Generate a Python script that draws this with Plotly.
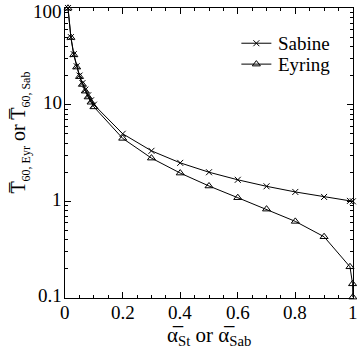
import math
import plotly.graph_objects as go

alpha_sab = [0.01, 0.02, 0.03, 0.04, 0.05, 0.06, 0.07, 0.08, 0.09, 0.1,
             0.2, 0.3, 0.4, 0.5, 0.6, 0.7, 0.8, 0.9, 0.99, 1.0]
t_sab = [100, 50, 33.3, 25, 20, 16.7, 14.3, 12.5, 11.1, 10,
         5.0, 3.33, 2.5, 2.0, 1.67, 1.43, 1.25, 1.11, 1.01, 1.0]

alpha_eyr = [0.01, 0.02, 0.03, 0.04, 0.05, 0.06, 0.07, 0.08, 0.09, 0.1,
             0.2, 0.3, 0.4, 0.5, 0.6, 0.7, 0.8, 0.9, 0.99, 0.999, 0.9999]
t_eyr = [99.5, 49.5, 32.8, 24.5, 19.5, 16.2, 13.8, 12.0, 10.6, 9.49,
         4.48, 2.80, 1.96, 1.44, 1.09, 0.83, 0.62, 0.43, 0.21, 0.14, 0.102]

series_names = ["Sabine", "Eyring"]

x_ticks = [0, 0.2, 0.4, 0.6, 0.8, 1]
x_labels = ["0", "0.2", "0.4", "0.6", "0.8", "1"]
y_ticks = [0.1, 1, 10, 100]
y_labels = ["0.1", "1", "10", "100"]
y_minor = [0.2, 0.3, 0.4, 0.5, 0.6, 0.7, 0.8, 0.9,
           2, 3, 4, 5, 6, 7, 8, 9,
           20, 30, 40, 50, 60, 70, 80, 90]

FONT = "Liberation Serif"
TXT = dict(family=FONT, size=19, color="black")

fig = go.Figure()
fig.add_trace(go.Scatter(
    x=alpha_sab, y=t_sab, name=" ", mode="lines+markers",
    line=dict(color="black", width=1), cliponaxis=False, legend="legend",
    marker=dict(symbol="x-thin", size=6, color="black",
                line=dict(color="black", width=1)),
))
fig.add_trace(go.Scatter(
    x=alpha_eyr, y=t_eyr, name=" ", mode="lines+markers",
    line=dict(color="black", width=1), cliponaxis=False, legend="legend2",
    marker=dict(symbol="triangle-up-open", size=7, color="black",
                line=dict(color="black", width=1)),
))

leg_common = dict(xanchor="left", yanchor="middle", bgcolor="rgba(0,0,0,0)",
                  font=dict(size=19, color="black"), itemwidth=30)
leg_y = [0.878, 0.806]
fig.update_layout(
    width=357, height=355,
    margin=dict(l=65, r=4, t=8, b=57),
    paper_bgcolor="white", plot_bgcolor="white",
    showlegend=True,
    legend=dict(x=0.595, y=leg_y[0], **leg_common),
    legend2=dict(x=0.595, y=leg_y[1], **leg_common),
)
axis_common = dict(
    showline=True, linecolor="black", linewidth=1, mirror="ticks",
    ticks="inside", ticklen=6, tickcolor="black", showgrid=False,
    zeroline=False, showticklabels=False,
)
fig.update_xaxes(range=[-0.0005, 1.0005], tickmode="array", tickvals=x_ticks,
                 minor=dict(dtick=0.05, ticks="inside", ticklen=3,
                            tickcolor="black"),
                 **axis_common)
fig.update_yaxes(type="log", range=[-1.0005, 2.0005], tickmode="array",
                 tickvals=y_ticks,
                 minor=dict(ticks="inside", ticklen=3, tickcolor="black",
                            tickvals=y_minor),
                 **axis_common)

# tick labels (placed through the axes' own data coordinates)
for v, lab in zip(x_ticks, x_labels):
    fig.add_annotation(text=lab, x=v, xref="x", y=0, yref="paper",
                       yanchor="top", xanchor="center", yshift=-2,
                       showarrow=False, font=TXT)
for i, (v, lab) in enumerate(zip(y_ticks, y_labels)):
    top = i == len(y_ticks) - 1
    fig.add_annotation(text=lab, x=0, xref="paper", y=math.log10(v),
                       yref="y", xanchor="right", yanchor="middle",
                       xshift=-1, yshift=-3 if top else 2,
                       showarrow=False, font=TXT)

# legend labels
for name, ly in zip(series_names, leg_y):
    fig.add_annotation(text=name, x=0.733, xref="paper", y=ly, yref="paper",
                       xanchor="left", yanchor="middle", showarrow=False,
                       font=TXT)

fig.add_annotation(
    text="α\u0305<sub>St</sub> or α\u0305<sub>Sab</sub>",
    xref="paper", yref="paper", x=0.5, y=-0.08, yanchor="top",
    showarrow=False, font=dict(family=FONT, size=21, color="black"),
)
fig.add_annotation(
    text=("T\u0305<sub><span style='font-size:12px'>60, Eyr</span></sub>"
          " or T\u0305<sub><span style='font-size:12px'>60, Sab</span></sub>"),
    xref="paper", yref="paper", x=-0.158, y=0.572, xanchor="center",
    yanchor="middle", textangle=-90,
    showarrow=False, font=dict(family=FONT, size=20, color="black"),
)

fig.write_html("out.html")
